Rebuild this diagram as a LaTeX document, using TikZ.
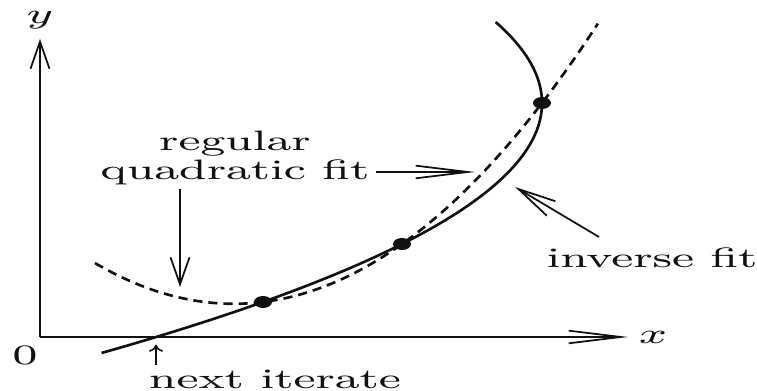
\documentclass[tikz,border=0pt]{standalone}
\usepackage{tikz}
\usetikzlibrary{arrows.meta,positioning}
\definecolor{ink}{HTML}{111111}
\tikzset{
  axis/.style={draw=ink,line width=.5pt},
  invcurve/.style={draw=ink,line width=.75pt},
  quadcurve/.style={draw=ink,line width=.75pt,dash pattern=on 2.6pt off 1.7pt},
  lbl/.style={font=\fontsize{8}{9}\selectfont,text=ink,xscale=1.66,inner sep=1pt},
  longhead/.style={-{Straight Barb[length=14.8pt,width=3.6pt]},draw=ink,line width=.5pt},
  tallhead/.style={-{Straight Barb[length=7.7pt,width=5.4pt]},draw=ink,line width=.5pt},
  slanthead/.style={-{Straight Barb[length=10.8pt,width=4.8pt]},draw=ink,line width=.5pt},
  tick/.style={-{To[length=2pt,width=4pt]},draw=ink,line width=.45pt}
}

\begin{document}
\begin{tikzpicture}[x=1cm,y=1cm]
  \useasboundingbox (-0.40,-0.54) rectangle (7.17,3.37);
  % axes
  \coordinate (O) at (0,0);
  \coordinate (xend) at (5.88,0);
  \coordinate (yend) at (0,2.98);
  \draw[axis,longhead] (O) -- (xend);
  \draw[axis,tallhead] (O) -- (yend);
  \node[lbl] (xlab) at (6.13,0) {$x$};
  \node[lbl] (ylab) at (0,3.17) {$y$};
  \node[lbl] (zero) at (-0.15,-0.18) {0};
  % the two fits
  \draw[invcurve] plot[domain=-0.16:3.15,samples=90,variable=\t]
    ({-0.7054*\t*\t+3.2995*\t+1.1616},\t);
  \draw[quadcurve] plot[domain=0.55:5.58,samples=90]
    (\x,{0.2114*\x*\x-0.8194*\x+1.1259});
  \coordinate (p1) at (2.23,0.35);
  \coordinate (p2) at (3.62,0.93);
  \coordinate (p3) at (5.02,2.34);
  \foreach \p in {p1,p2,p3}
    \fill[ink] (\p) ellipse [x radius=.09,y radius=.06];
  \coordinate (root) at (1.16,0);
  % labels and pointers
  \node[lbl] (quad) at (1.95,1.65) {quadratic fit};
  \node[lbl,above=-1.6pt of quad] (reg) {regular};
  \coordinate (qtip) at (4.35,1.65);
  \coordinate (vtip) at (1.40,0.50);
  \draw[longhead] (quad.east) -- (qtip);
  \draw[tallhead] (quad.south -| vtip) -- (vtip);
  \node[lbl] (inv) at (6.12,0.79) {inverse fit};
  \coordinate (itail) at (5.59,1.00);
  \coordinate (itip) at (4.75,1.50);
  \draw[slanthead] (itail) -- (itip);
  \node[lbl] (nxt) at (2.35,-0.42) {next iterate};
  \draw[tick,shorten >=2.2pt] (nxt.north -| root) -- (root);
\end{tikzpicture}
\end{document}
